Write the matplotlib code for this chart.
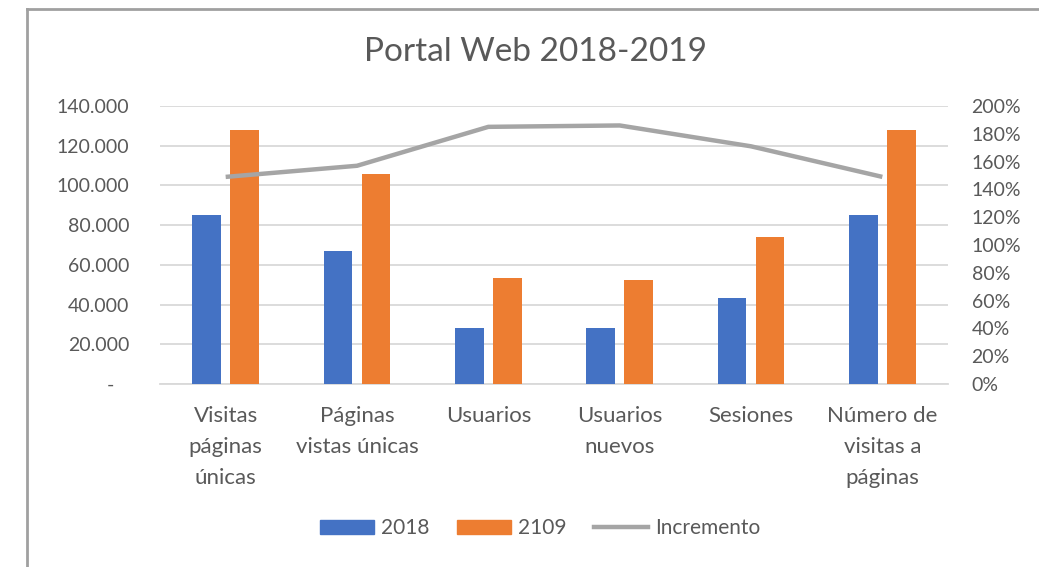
import matplotlib

matplotlib.use("Agg")
import matplotlib.pyplot as plt
import numpy as np
from matplotlib.lines import Line2D
from matplotlib.ticker import FixedLocator, FuncFormatter

plt.rcParams["font.family"] = ["Lato", "DejaVu Sans"]

# data
categories = ["Visitas\npáginas\núnicas", "Páginas\nvistas únicas", "Usuarios",
              "Usuarios\nnuevos", "Sesiones", "Número de\nvisitas a\npáginas"]
v2018 = [85200, 67000, 28300, 28300, 43100, 85200]
v2109 = [128100, 105600, 53200, 52400, 74200, 127800]
incremento = [1.49, 1.57, 1.85, 1.86, 1.71, 1.49]

BLUE, ORANGE, GREY = "#4472c4", "#ed7d31", "#a5a5a5"
TXT = "#595959"

fig = plt.figure(figsize=(10.39, 5.67), dpi=100)
ax = fig.add_axes([160 / 1039, 1 - 384 / 567, 788 / 1039, 278 / 567])
ax2 = ax.twinx()

x = np.arange(len(categories))
w, off = 0.22, 0.145
ax.bar(x - off, v2018, w, color=BLUE, zorder=3)
ax.bar(x + off, v2109, w, color=ORANGE, zorder=3)
ax2.plot(x, incremento, color=GREY, lw=3.2, solid_capstyle="butt", zorder=4)

ax.set_xlim(-0.5, len(categories) - 0.5)
ax.set_ylim(0, 140000)
ax2.set_ylim(0, 2.0)
ax.yaxis.set_major_locator(FixedLocator(np.arange(0, 140001, 20000)))
ax2.yaxis.set_major_locator(FixedLocator(np.arange(0, 2.01, 0.2)))
ax.yaxis.set_major_formatter(FuncFormatter(
    lambda v, p: "-   " if v == 0 else f"{int(v):,}".replace(",", ".")))
ax2.yaxis.set_major_formatter(FuncFormatter(lambda v, p: f"{v * 100:.0f}%"))

ax.grid(True, axis="y", color="#d9d9d9", lw=1.3, zorder=0)
ax.set_axisbelow(True)
for a in (ax, ax2):
    for s in a.spines.values():
        s.set_visible(False)
ax.spines["bottom"].set_visible(True)
ax.spines["bottom"].set_color("#d9d9d9")
ax.spines["bottom"].set_linewidth(1.3)

ax.set_xticks(x)
ax.set_xticklabels(categories, linespacing=1.68)
ax.tick_params(axis="x", length=0, pad=16, labelsize=16, labelcolor=TXT)
ax.tick_params(axis="y", length=0, pad=22, labelsize=14, labelcolor=TXT)
ax2.tick_params(axis="y", length=0, pad=17, labelsize=14, labelcolor=TXT)

fig.text(535 / 1039, 1 - 52 / 567, "Portal Web 2018-2019", ha="center", va="center",
         fontsize=24, color=TXT)

handles = [plt.Rectangle((0, 0), 1, 1, color=BLUE),
           plt.Rectangle((0, 0), 1, 1, color=ORANGE),
           Line2D([], [], color=GREY, lw=3.2)]
fig.legend(handles, ["2018", "2109", "Incremento"], loc="center",
           bbox_to_anchor=(540 / 1039, 1 - 528 / 567), ncol=3, frameon=False,
           fontsize=15, labelcolor=TXT, handlelength=2.6, handleheight=0.65,
           handletextpad=0.35, columnspacing=1.3)

# chart border (top and left edges visible in the crop)
fig.add_artist(Line2D([27 / 1039, 27 / 1039], [0, 1 - 9 / 567], color="#a0a0a0", lw=2,
                      transform=fig.transFigure))
fig.add_artist(Line2D([27 / 1039, 1], [1 - 9 / 567, 1 - 9 / 567], color="#a0a0a0", lw=2,
                      transform=fig.transFigure))

fig.savefig("out.png", dpi=100, facecolor="white")
